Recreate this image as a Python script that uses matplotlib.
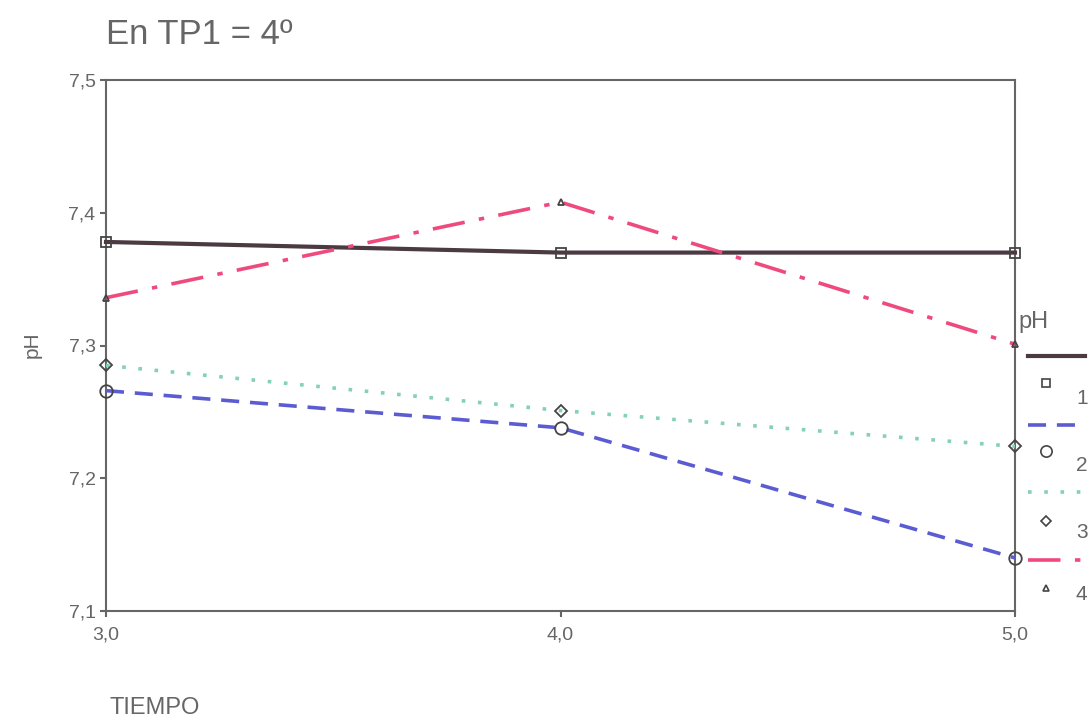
import matplotlib
matplotlib.use("Agg")
import matplotlib.pyplot as plt
from matplotlib.lines import Line2D

plt.rcParams['font.family'] = ['Liberation Sans', 'DejaVu Sans']

tiempo = [3.0, 4.0, 5.0]
ph_1 = [7.378, 7.370, 7.370]
ph_2 = [7.266, 7.238, 7.140]
ph_3 = [7.285, 7.251, 7.224]
ph_4 = [7.336, 7.408, 7.301]
series_labels = ["1", "2", "3", "4"]
yticks = [7.1, 7.2, 7.3, 7.4, 7.5]
xticks = [3.0, 4.0, 5.0]

def fmt(v):
    return f"{v:.1f}".replace(".", ",")

W, H = 1092, 723
fig = plt.figure(figsize=(W / 100, H / 100), dpi=100)
ax = fig.add_axes([106 / W, 1 - 611 / H, 909 / W, 531 / H])

grey = "#666666"
styles = [
    dict(color="#4b3a42", ls="-", lw=3.0, marker="s"),
    dict(color="#5c5cd2", ls=(0, (5, 3)), lw=2.6, marker="o"),
    dict(color="#84d2b2", ls=(0, (1, 3.5)), lw=2.6, marker="D"),
    dict(color="#ee4a7e", ls=(0, (9, 4, 1.5, 4)), lw=2.6, marker="^"),
]
msizes = [7, 9, 6, 5]
for ys, st, ms in zip([ph_1, ph_2, ph_3, ph_4], styles, msizes):
    ax.plot(tiempo, ys, color=st["color"], ls=st["ls"], lw=st["lw"], zorder=3,
            clip_on=False)
    ax.plot(tiempo, ys, ls="none", marker=st["marker"], ms=ms,
            mfc="none", mec="#444444", mew=1.3, zorder=4, clip_on=False)

ax.set_xlim(3.0, 5.0)
ax.set_ylim(7.1, 7.5)
ax.set_xticks(xticks)
ax.set_xticklabels([fmt(v) for v in xticks])
ax.set_yticks(yticks)
ax.set_yticklabels([fmt(v) for v in yticks])
for s in ax.spines.values():
    s.set_color("#666666")
    s.set_linewidth(1.5)
ax.tick_params(axis="both", colors="#666666", labelcolor=grey, labelsize=14,
               length=4, width=1.5)
ax.tick_params(axis="x", pad=7)

fig.text(106 / W, 1 - 35 / H, "En TP1 = 4º", fontsize=25, color=grey,
         ha="left", va="center")
fig.text(32 / W, 1 - 345 / H, "pH", fontsize=15, color=grey, rotation=90,
         ha="center", va="center")
fig.text(110 / W, 1 - 708 / H, "TIEMPO", fontsize=17, color=grey,
         ha="left", va="center")

# legend
fig.text(1018 / W, 1 - 322 / H, "pH", fontsize=17, color=grey,
         ha="left", va="center")
line_y = [356, 425, 492, 560]
mark_y = [383, 451, 521, 588]
lab_y = [398, 465, 532, 595]
for st, ms, ly, my, ty, lab in zip(styles, msizes, line_y, mark_y, lab_y, series_labels):
    fig.add_artist(Line2D([1028 / W, 1085 / W], [1 - ly / H, 1 - ly / H],
                          color=st["color"], ls=st["ls"], lw=st["lw"],
                          transform=fig.transFigure))
    fig.add_artist(Line2D([1046 / W], [1 - my / H], ls="none",
                          marker=st["marker"], ms=ms * 0.9, mfc="none",
                          mec="#444444", mew=1.2, transform=fig.transFigure))
    fig.text(1076 / W, 1 - ty / H, lab, fontsize=15, color=grey,
             ha="left", va="center")

fig.savefig("out.png", dpi=100, facecolor="white")
